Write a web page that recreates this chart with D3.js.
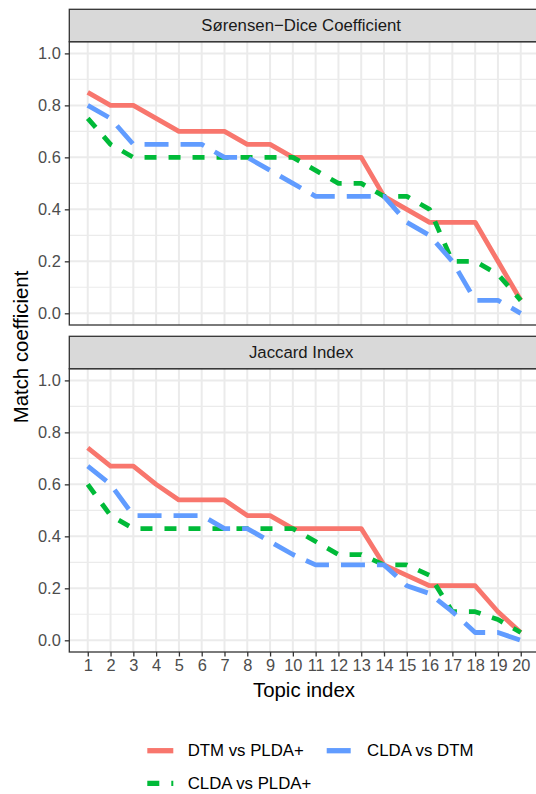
<!DOCTYPE html>
<html>
<head>
<meta charset="utf-8">
<script src="https://cdn.jsdelivr.net/npm/d3@7"></script>
<style>
  body { margin: 0; background: #fff; }
  svg { display: block; font-family: "Liberation Sans", Arial, sans-serif; }
</style>
</head>
<body>
<div id="chart"></div>
<script>
// topic index on the x axis
const topics = [1, 2, 3, 4, 5, 6, 7, 8, 9, 10, 11, 12, 13, 14, 15, 16, 17, 18, 19, 20];
const seriesNames = ["DTM vs PLDA+", "CLDA vs PLDA+", "CLDA vs DTM"];
const panelTitles = ["Sørensen\u2212Dice Coefficient", "Jaccard Index"];
const yTicks = [0, 0.2, 0.4, 0.6, 0.8, 1.0];
const yMinor = [0.1, 0.3, 0.5, 0.7, 0.9];

// Sørensen-Dice values
const diceDtmPlda = [0.85, 0.8, 0.8, 0.75, 0.7, 0.7, 0.7, 0.65, 0.65, 0.6, 0.6, 0.6, 0.6, 0.45, 0.4, 0.35, 0.35, 0.35, 0.2, 0.05];
const diceCldaPlda = [0.75, 0.65, 0.6, 0.6, 0.6, 0.6, 0.6, 0.6, 0.6, 0.6, 0.55, 0.5, 0.5, 0.45, 0.45, 0.4, 0.2, 0.2, 0.15, 0.05];
const diceCldaDtm = [0.8, 0.75, 0.65, 0.65, 0.65, 0.65, 0.6, 0.6, 0.55, 0.5, 0.45, 0.45, 0.45, 0.45, 0.35, 0.3, 0.2, 0.05, 0.05, 0.0];

// Jaccard values
const jacDtmPlda = [0.74, 0.67, 0.67, 0.6, 0.54, 0.54, 0.54, 0.48, 0.48, 0.43, 0.43, 0.43, 0.43, 0.29, 0.25, 0.21, 0.21, 0.21, 0.11, 0.03];
const jacCldaPlda = [0.6, 0.48, 0.43, 0.43, 0.43, 0.43, 0.43, 0.43, 0.43, 0.43, 0.38, 0.33, 0.33, 0.29, 0.29, 0.25, 0.11, 0.11, 0.08, 0.03];
const jacCldaDtm = [0.67, 0.6, 0.48, 0.48, 0.48, 0.48, 0.43, 0.43, 0.38, 0.33, 0.29, 0.29, 0.29, 0.29, 0.21, 0.18, 0.11, 0.03, 0.03, 0.0];

const panels = [
  { title: panelTitles[0], values: [diceDtmPlda, diceCldaPlda, diceCldaDtm] },
  { title: panelTitles[1], values: [jacDtmPlda, jacCldaPlda, jacCldaDtm] }
];

const colors = d3.scaleOrdinal().domain(seriesNames).range(["#F8766D", "#00BA38", "#619CFF"]);
const dashes = d3.scaleOrdinal().domain(seriesNames).range(["none", "12,12", "24,12"]);

const width = 536, height = 794;
const left = 69.3, right = 539.2;
const stripH = 32.4, panelH = 283.3;
const panelTops = [41.7, 368.7];
const lineW = 4.8;

let svg = d3.select("#chart").append("svg")
    .attr("width", width)
    .attr("height", height);

let x = d3.scaleLinear().domain([0.19, 20.81]).range([left, right]);

panels.forEach((p, i) => {
  let top = panelTops[i];
  let y = d3.scaleLinear().domain([-0.045, 1.045]).range([top + panelH, top]);
  let g = svg.append("g");

  let clipId = "clip" + i;
  g.append("clipPath").attr("id", clipId)
    .append("rect").attr("x", left).attr("y", top).attr("width", right - left).attr("height", panelH);

  // background + grid
  g.append("rect").attr("x", left).attr("y", top).attr("width", right - left).attr("height", panelH)
    .attr("fill", "#fff");
  g.selectAll(".minor").data(yMinor).enter().append("line")
    .attr("x1", left).attr("x2", right)
    .attr("y1", d => y(d)).attr("y2", d => y(d))
    .attr("stroke", "#ebebeb").attr("stroke-width", 1.1);
  g.selectAll(".majorY").data(yTicks).enter().append("line")
    .attr("x1", left).attr("x2", right)
    .attr("y1", d => y(d)).attr("y2", d => y(d))
    .attr("stroke", "#ebebeb").attr("stroke-width", 2);
  g.selectAll(".majorX").data(topics).enter().append("line")
    .attr("x1", d => x(d)).attr("x2", d => x(d))
    .attr("y1", top).attr("y2", top + panelH)
    .attr("stroke", "#ebebeb").attr("stroke-width", 2);

  // lines
  let line = d3.line().x((d, k) => x(topics[k])).y(d => y(d));
  g.append("g").attr("clip-path", "url(#" + clipId + ")")
    .selectAll("path").data(p.values).enter().append("path")
    .attr("d", d => line(d))
    .attr("fill", "none")
    .attr("stroke", (d, k) => colors(seriesNames[k]))
    .attr("stroke-dasharray", (d, k) => dashes(seriesNames[k]))
    .attr("stroke-width", lineW)
    .attr("stroke-linejoin", "round")
    .attr("stroke-linecap", "butt");

  // border
  g.append("rect").attr("x", left).attr("y", top).attr("width", right - left).attr("height", panelH)
    .attr("fill", "none").attr("stroke", "#333").attr("stroke-width", 1.3);

  // strip
  g.append("rect").attr("x", left).attr("y", top - stripH).attr("width", right - left).attr("height", stripH)
    .attr("fill", "#d9d9d9").attr("stroke", "#333").attr("stroke-width", 1.3);
  g.append("text").attr("x", (left + 533) / 2).attr("y", top - stripH / 2)
    .attr("text-anchor", "middle").attr("dominant-baseline", "central")
    .attr("font-size", "16.8px").attr("fill", "#1a1a1a")
    .text(p.title);

  // y axis
  let yAxis = d3.axisLeft(y).tickValues(yTicks).tickFormat(d3.format(".1f")).tickSize(4.5).tickPadding(4);
  let ya = g.append("g").attr("transform", "translate(" + left + ",0)").call(yAxis);
  ya.select(".domain").remove();
  ya.selectAll(".tick line").attr("stroke", "#333").attr("stroke-width", 1.3);
  ya.selectAll(".tick text").attr("font-size", "16.4px").attr("fill", "#4d4d4d")
    .attr("font-family", "Liberation Sans, Arial, sans-serif");

  // x axis only on the bottom panel
  if (i == panels.length - 1) {
    let xAxis = d3.axisBottom(x).tickValues(topics).tickFormat(d3.format("d")).tickSize(4.5).tickPadding(3);
    let xa = g.append("g").attr("transform", "translate(0," + (top + panelH) + ")").call(xAxis);
    xa.select(".domain").remove();
    xa.selectAll(".tick line").attr("stroke", "#333").attr("stroke-width", 1.3);
    xa.selectAll(".tick text").attr("font-size", "16.4px").attr("fill", "#4d4d4d")
      .attr("font-family", "Liberation Sans, Arial, sans-serif");
  }
});

// axis titles
svg.append("text").attr("x", 304).attr("y", 697)
  .attr("text-anchor", "middle").attr("font-size", "20.4px").attr("fill", "#000")
  .text("Topic index");
svg.append("text").attr("transform", "translate(27.5,347) rotate(-90)")
  .attr("text-anchor", "middle").attr("font-size", "20.4px").attr("fill", "#000")
  .text("Match coefficient");

// legend (filled by column, two rows)
let legendPos = [[147.3, 750.7], [147.3, 783.3], [326.7, 750.7]];
let legend = svg.selectAll(".legend").data(seriesNames).enter().append("g")
  .attr("transform", (d, k) => "translate(" + legendPos[k][0] + "," + legendPos[k][1] + ")");
legend.append("line")
  .attr("x1", 0).attr("x2", 26).attr("y1", 0).attr("y2", 0)
  .attr("stroke", d => colors(d))
  .attr("stroke-dasharray", d => dashes(d))
  .attr("stroke-width", lineW + 0.5);
legend.append("text")
  .attr("x", 40.4).attr("y", 0)
  .attr("dominant-baseline", "central")
  .attr("font-size", "16.8px").attr("fill", "#000")
  .text(d => d);
</script>
</body>
</html>
